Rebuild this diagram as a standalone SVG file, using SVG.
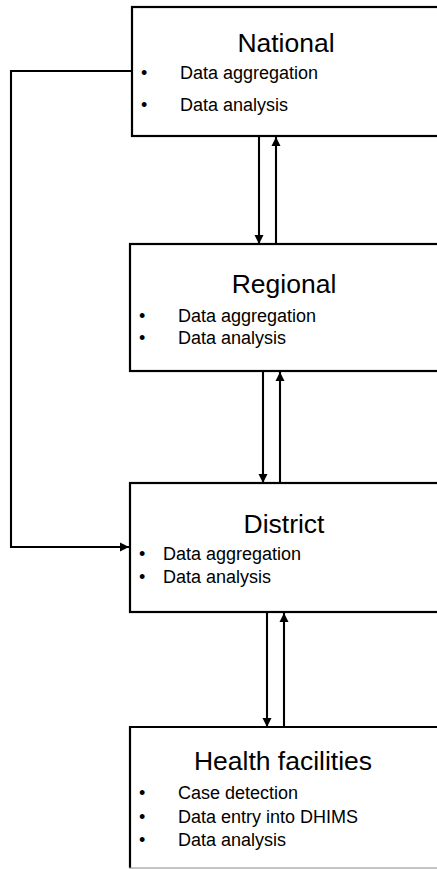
<svg xmlns="http://www.w3.org/2000/svg" width="437" height="869" viewBox="0 0 437 869">
<defs>
<marker id="ah" viewBox="0 0 10 10" refX="10" refY="5" markerWidth="4.5" markerHeight="4.5" markerUnits="strokeWidth" orient="auto">
<path d="M0,0 L10,5 L0,10 Z" fill="#000"/>
</marker>
<style>
.box{fill:#fff;stroke:#000;stroke-width:2.2}
.t{font-family:"Liberation Sans",Arial,sans-serif;fill:#000}
.title{font-size:26.5px;text-anchor:middle}
.item{font-size:18px}
.con{fill:none;stroke:#000;stroke-width:2.1;marker-end:url(#ah)}
</style>
</defs>
<rect width="437" height="869" fill="#fff"/>
<g id="national">
<rect class="box" x="132" y="7" width="310" height="129"/>
<text class="t title" x="286" y="52">National</text>
<text class="t item" x="141" y="79">•</text>
<text class="t item" x="180" y="79">Data aggregation</text>
<text class="t item" x="141" y="111">•</text>
<text class="t item" x="180" y="111">Data analysis</text>
</g>
<g id="regional">
<rect class="box" x="130" y="244" width="312" height="127"/>
<text class="t title" x="284" y="293">Regional</text>
<text class="t item" x="139" y="322">•</text>
<text class="t item" x="178" y="322">Data aggregation</text>
<text class="t item" x="139" y="344">•</text>
<text class="t item" x="178" y="344">Data analysis</text>
</g>
<g id="district">
<rect class="box" x="130" y="483" width="312" height="129"/>
<text class="t title" x="284" y="533">District</text>
<text class="t item" x="139" y="560">•</text>
<text class="t item" x="163" y="560">Data aggregation</text>
<text class="t item" x="139" y="583">•</text>
<text class="t item" x="163" y="583">Data analysis</text>
</g>
<g id="health">
<rect x="130" y="727" width="312" height="141" fill="#fff" stroke="none"/>
<path d="M130,868 V727 H442" fill="none" stroke="#000" stroke-width="2.2"/>
<path d="M129,868 H437" fill="none" stroke="#888" stroke-width="1"/>
<text class="t title" x="283" y="770">Health facilities</text>
<text class="t item" x="139" y="799">•</text>
<text class="t item" x="178" y="799">Case detection</text>
<text class="t item" x="139" y="823">•</text>
<text class="t item" x="178" y="823">Data entry into DHIMS</text>
<text class="t item" x="139" y="846">•</text>
<text class="t item" x="178" y="846">Data analysis</text>
</g>
<g id="connectors">
<path class="con" d="M259,136 V244"/>
<path class="con" d="M276,244 V137"/>
<path class="con" d="M263,371 V483"/>
<path class="con" d="M280,483 V372"/>
<path class="con" d="M267,612 V727"/>
<path class="con" d="M284,727 V613"/>
<path class="con" d="M132,71 H11 V547 H129"/>
</g>
</svg>
